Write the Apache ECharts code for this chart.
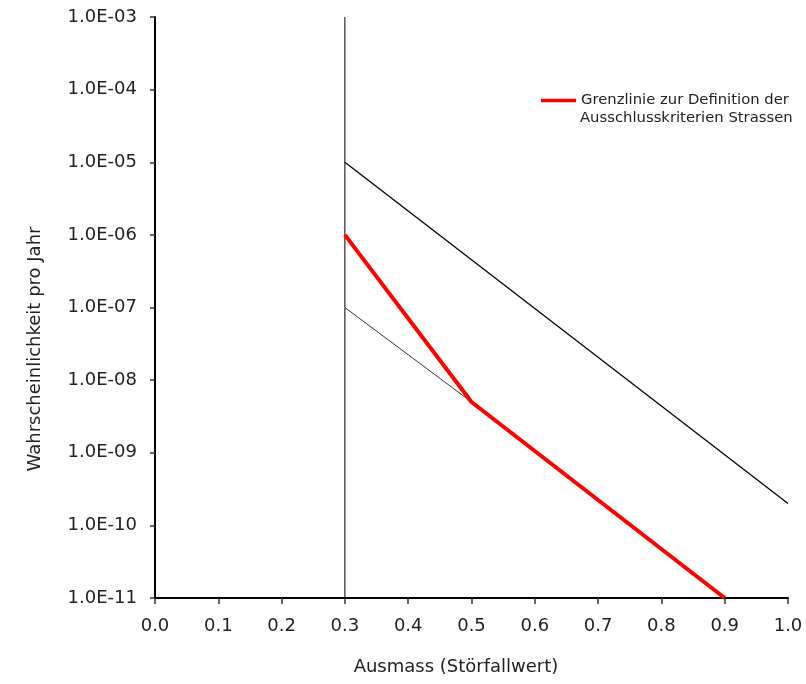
<!DOCTYPE html>
<html><head><meta charset="utf-8">
<script src="https://cdn.jsdelivr.net/npm/echarts@6/dist/echarts.min.js"></script>
<style>html,body{margin:0;padding:0;background:#fff}#c{width:806px;height:684px}</style>
</head><body><div id="c"></div>
<script>
// Data
var xTicks = [0, 0.1, 0.2, 0.3, 0.4, 0.5, 0.6, 0.7, 0.8, 0.9, 1.0];
var yTicks = [1e-11, 1e-10, 1e-9, 1e-8, 1e-7, 1e-6, 1e-5, 1e-4, 1e-3];
var verticalX = [0.3, 0.3];
var verticalY = [1e-11, 1e-3];
var upperX = [0.3, 1.0];
var upperY = [1e-5, 2e-10];
var lowerX = [0.3, 0.5];
var lowerY = [1e-7, 5e-9];
var redX = [0.3, 0.5, 0.9];
var redY = [1e-6, 5e-9, 1e-11];
var legendLine1 = 'Grenzlinie zur Definition der';
var legendLine2 = 'Ausschlusskriterien Strassen';
var xTitle = 'Ausmass (Störfallwert)';
var yTitle = 'Wahrscheinlichkeit pro Jahr';

function pairs(xs, ys) { return xs.map(function (x, i) { return [x, ys[i]]; }); }
function fmtE(v) {
  var e = Math.round(Math.log10(v));
  var s = Math.abs(e) < 10 ? '0' + Math.abs(e) : '' + Math.abs(e);
  return '1.0E' + (e < 0 ? '-' : '+') + s;
}
var font = 'DejaVu Sans';
var txt = '#222';
var chart = echarts.init(document.getElementById('c'), null, { renderer: 'canvas' });
chart.setOption({
  animation: false,
  backgroundColor: '#fff',
  grid: { left: 155, right: 18, top: 17, bottom: 86, containLabel: false },
  xAxis: {
    type: 'value', min: 0, max: 1, interval: 0.1,
    axisLine: { show: true, lineStyle: { color: '#000', width: 2 } },
    axisTick: { show: true, inside: false, length: 6, lineStyle: { color: '#333', width: 1.5 } },
    axisLabel: { margin: 19, fontFamily: font, fontSize: 18, color: txt,
      formatter: function (v) { return v.toFixed(1); } },
    splitLine: { show: false }
  },
  yAxis: {
    type: 'log', logBase: 10, min: yTicks[0], max: yTicks[yTicks.length - 1],
    axisLine: { show: true, lineStyle: { color: '#000', width: 2 } },
    axisTick: { show: true, inside: false, length: 5, lineStyle: { color: '#333', width: 1.5 } },
    axisLabel: { margin: 18, fontFamily: font, fontSize: 18, color: txt, formatter: fmtE },
    splitLine: { show: false }
  },
  legend: {
    data: [legendLine1],
    left: 541, top: 93, padding: 0, itemWidth: 35, itemHeight: 4, itemGap: 5,
    textStyle: { fontFamily: font, fontSize: 14.8, color: txt },
    icon: 'path://M0,0 L40,0 L40,4 L0,4 Z'
  },
  graphic: [
    { type: 'text', x: 580, y: 118, style: { text: legendLine2, font: '14.8px "DejaVu Sans"', fill: txt, verticalAlign: 'middle' } },
    { type: 'text', x: 456, y: 667, style: { text: xTitle, font: '18px "DejaVu Sans"', fill: txt, align: 'center', verticalAlign: 'middle' } },
    { type: 'text', x: 35, y: 349, rotation: Math.PI / 2, style: { text: yTitle, font: '18px "DejaVu Sans"', fill: txt, align: 'center', verticalAlign: 'middle' } }
  ],
  series: [
    { name: 'vertical', type: 'line', data: pairs(verticalX, verticalY), symbol: 'none', lineStyle: { color: '#000', width: 1 } },
    { name: 'upper', type: 'line', data: pairs(upperX, upperY), symbol: 'none', lineStyle: { color: '#000', width: 1.3 } },
    { name: 'lower', type: 'line', data: pairs(lowerX, lowerY), symbol: 'none', lineStyle: { color: '#000', width: 0.8 } },
    { name: legendLine1, type: 'line', data: pairs(redX, redY), symbol: 'none', itemStyle: { color: '#ff0000' }, lineStyle: { color: '#ff0000', width: 4 } }
  ]
});
</script></body></html>
